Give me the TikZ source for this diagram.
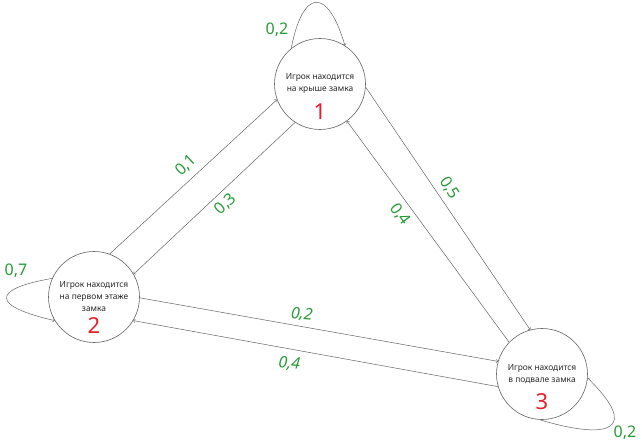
\documentclass[tikz,border=0pt]{standalone}
\usepackage{fontspec}
\setmainfont{Noto Sans}
\usepackage{tikz}
\definecolor{edgegray}{RGB}{100,100,100}
\definecolor{probgreen}{RGB}{40,155,55}
\definecolor{numred}{RGB}{230,30,40}

\begin{document}
\begin{tikzpicture}[x=1pt,y=1pt]
	\tikzstyle{state}=[circle,draw=edgegray,line width=0.6pt,minimum size=91pt,inner sep=0pt,align=center,text=black!85,font=\fontsize{8.4}{12}\selectfont]
	\tikzstyle{num}=[text=numred,font=\fontsize{22}{22}\selectfont,inner sep=0pt]
	\tikzstyle{prob}=[text=probgreen,font=\fontsize{16}{16}\selectfont,inner sep=2pt]
	\tikzstyle{trans}=[draw=edgegray,line width=0.5pt,->,>=to]
	\useasboundingbox (0,0) rectangle (642,445);
	\node[state](s1) at (320,361) {Игрок находится\\на крыше замка};
	\node[state](s2) at (94,148) {Игрок находится\\на первом этаже\\замка};
	\node[state](s3) at (542,71) {Игрок находится\\в подвале замка};
	\node[num](n1) at ([yshift=-28pt]s1.center) {1};
	\node[num](n2) at ([yshift=-29pt]s2.center) {2};
	\node[num](n3) at ([yshift=-28pt]s3.center) {3};
	\draw[trans](s2.70) -- node[prob,sloped,above=4pt,pos=0.51](p21){0,1} (s1.200);
	\draw[trans](s1.237) -- node[prob,sloped,below=3pt,pos=0.48](p12){0,3} (s2.30);
	\draw[trans](s1.356) -- node[prob,sloped,above=4pt,pos=0.445](p13){0,5} (s3.105);
	\draw[trans](s3.136) -- node[prob,sloped,below=3pt,pos=0.61](p31){0,4} (s1.306);
	\draw[trans](s2.359) -- node[prob,above=3pt,pos=0.45,rotate=-5](p23){\itshape 0,2} (s3.164);
	\draw[trans](s3.196) -- node[prob,below=6pt,pos=0.57,rotate=-5](p32){\itshape 0,4} (s2.329);
	\draw[trans](s1.129) .. controls +(12,61) and +(-17,58) .. (s1.57);
	\draw[trans](s2.156) .. controls +(-63,-11) and +(-62,14) .. (s2.211);
	\draw[trans](s3.267) .. controls +(70,-21) and +(53,-52) .. (s3.355);
	\node[prob](p11) at (277,415) {0,2};
	\node[prob](p22) at (16,174) {0,7};
	\node[prob](p33) at (625,12) {0,2};
\end{tikzpicture}
\end{document}
